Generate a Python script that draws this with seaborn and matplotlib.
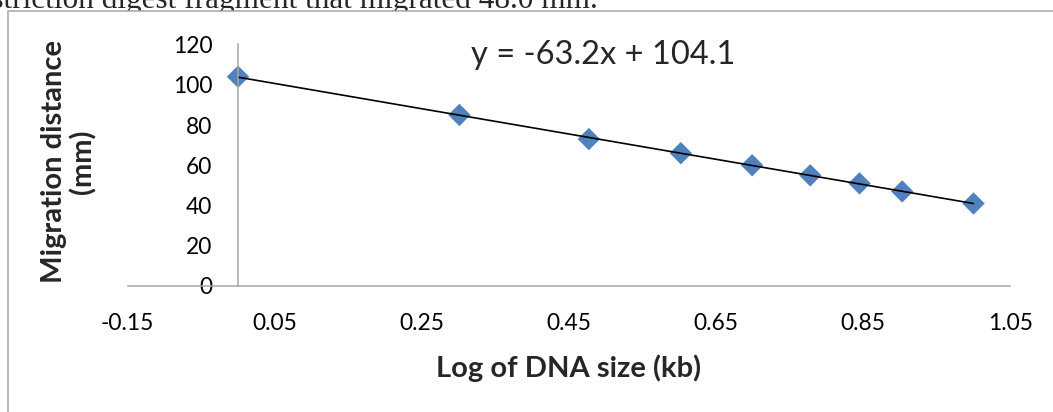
import matplotlib
matplotlib.use("Agg")
import matplotlib.pyplot as plt
import seaborn as sns
from matplotlib.patches import Rectangle

# data
log_size = [0.0, 0.301, 0.477, 0.602, 0.699, 0.778, 0.845, 0.903, 1.0]   # log10 of 1..10 kb
migration_mm = [104, 85, 73, 66, 60, 55, 51, 47, 41]
xticks = [-0.15, 0.05, 0.25, 0.45, 0.65, 0.85, 1.05]
yticks = [0, 20, 40, 60, 80, 100, 120]
equation = "y = -63.2x + 104.1"
caption = "restriction digest fragment that migrated 48.0 mm."

sns.set_style("white")
plt.rcParams['font.family'] = ['Lato', 'DejaVu Sans']

W, H = 1053, 412
fig = plt.figure(figsize=(W / 100, H / 100), dpi=100)
ax = fig.add_axes([127.7 / W, 1 - 286 / H, 882.6 / W, 241.5 / H])

# text of the document behind the chart, mostly hidden by the chart area
fig.text(598 / W, 1 - 8 / H, caption, family=['Liberation Serif', 'DejaVu Serif'],
         fontsize=22.5, ha='right', va='baseline', zorder=1)
fig.add_artist(Rectangle((8 / W, -0.1), 1.2, 1 - 10.5 / H + 0.1, transform=fig.transFigure,
                         facecolor='white', edgecolor='#a6a6a6', lw=1.1, zorder=2))
ax.set_zorder(3)
ax.patch.set_alpha(0)

sns.regplot(x=log_size, y=migration_mm, ax=ax, ci=None, marker='D', truncate=True,
            color='#4F81BD',
            scatter_kws=dict(s=130, color='#4F81BD', edgecolors='none', alpha=1, clip_on=False),
            line_kws=dict(color='black', lw=1.2))

ax.set_xlim(-0.15, 1.05)
ax.set_ylim(0, 120)
ax.set_xticks(xticks)
ax.set_xticklabels([f"{t:.2f}" for t in xticks])
ax.set_yticks(yticks)

for s in ['top', 'right']:
    ax.spines[s].set_visible(False)
ax.spines['left'].set_position(('data', 0))
for s in ['left', 'bottom']:
    ax.spines[s].set_color('#a6a6a6')
    ax.spines[s].set_linewidth(1.1)

ax.tick_params(direction='out', length=5.5, width=1.1, color='#a6a6a6',
               labelsize=16.4, labelcolor='black')
ax.tick_params(axis='x', pad=14)
ax.tick_params(axis='y', pad=13)

ax.set_xlabel("Log of DNA size (kb)", fontsize=21, fontweight='bold', va='center')
ax.xaxis.set_label_coords(0.5, -0.34)
ax.set_ylabel("Migration distance\n(mm)", fontsize=21, fontweight='bold',
              va='center', ha='center', linespacing=1.1)
ax.yaxis.set_label_coords(-0.0665, 0.5155)

ax.text(0.497, 114.8, equation, fontsize=23.5, ha='center', va='center')

fig.savefig('out.png', dpi=100)
